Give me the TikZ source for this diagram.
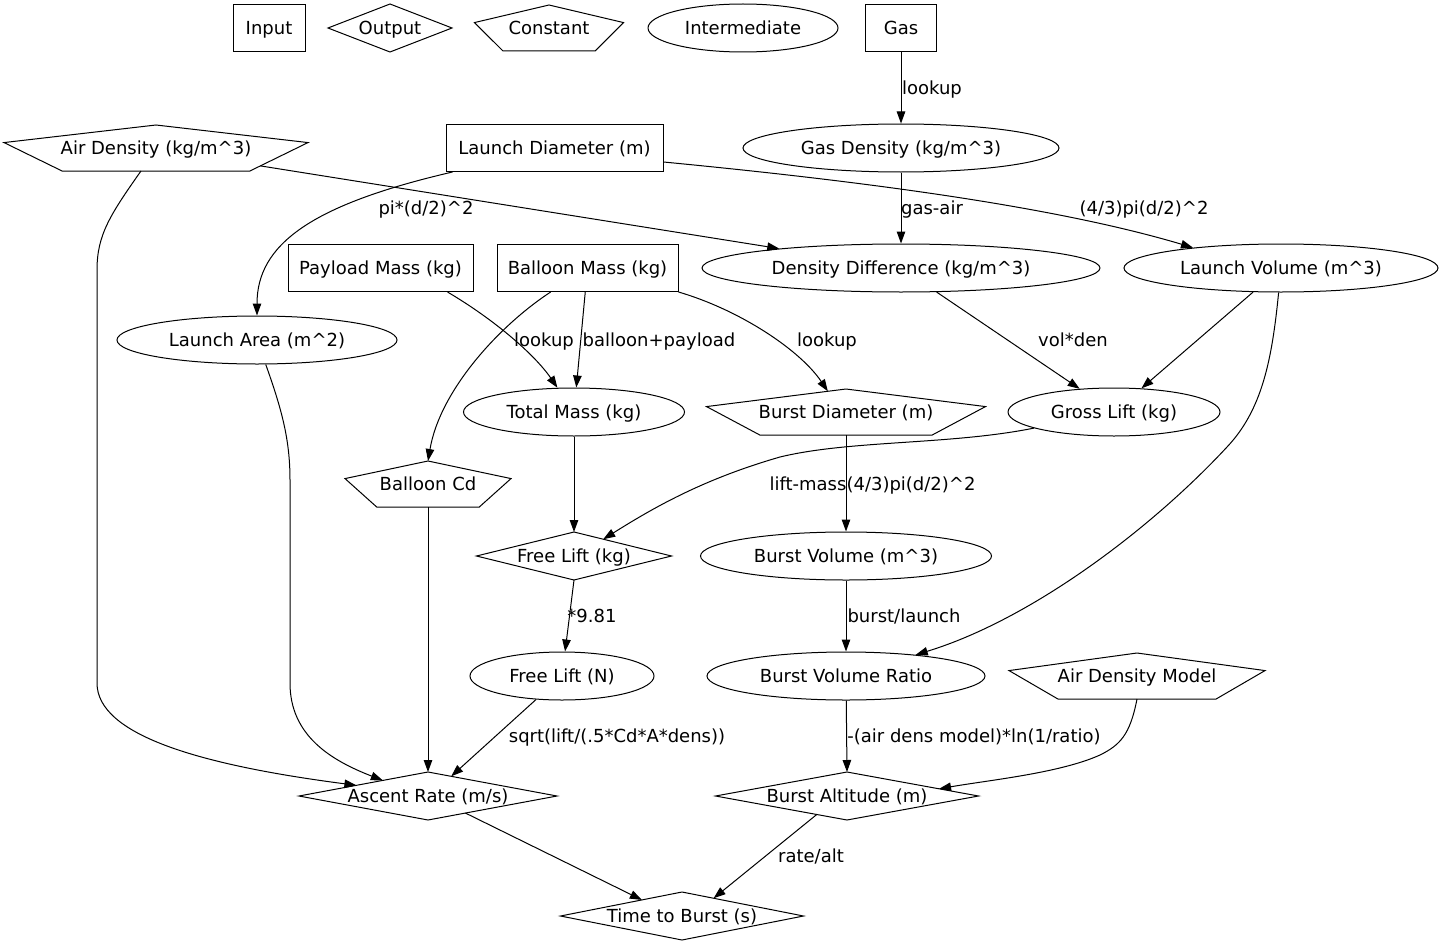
\documentclass[tikz,border=0pt]{standalone}
\usepackage{fontspec}
\setmainfont{DejaVu Sans}
\usetikzlibrary{shapes.geometric,arrows.meta,calc}

\begin{document}
\begin{tikzpicture}[
        x=1pt, y=1pt,
        line width=1pt,
        every node/.style={
            inner sep=0pt,
            text height=17pt,
            text depth=4pt,
            font=\fontsize{18}{22}\selectfont
        },
        inputnode/.style={rectangle, draw, minimum height=47pt},
        outputnode/.style={rectangle, minimum height=47pt},
        constnode/.style={rectangle, minimum height=45pt},
        midnode/.style={ellipse, draw, minimum height=48pt},
        arr/.style={-{Triangle[length=12pt,width=8.5pt]}}
    ]
    \useasboundingbox (0,0) rectangle (1447,-947);

    % Leyenda
    \node[inputnode, minimum width=72pt]   (legIn)    at (269,-28) {Input};
    \node[outputnode, minimum width=123pt] (legOut)   at (390,-28) {Output};
    \node[constnode, minimum width=148pt]  (legConst) at (549,-28) {Constant};
    \node[midnode, minimum width=190pt]    (legMid)   at (743,-28) {Intermediate};
    \node[inputnode, minimum width=71pt]   (gas)      at (901,-28) {Gas};

    % Nodos
    \node[constnode, minimum width=303pt]  (airden)   at (156,-148)   {Air Density (kg/m\textasciicircum 3)};
    \node[inputnode, minimum width=217pt]  (ldia)     at (554.5,-148) {Launch Diameter (m)};
    \node[midnode, minimum width=316pt]    (gasden)   at (901,-148)   {Gas Density (kg/m\textasciicircum 3)};

    \node[inputnode, minimum width=185pt]  (payload)  at (380.5,-268) {Payload Mass (kg)};
    \node[inputnode, minimum width=181pt]  (bmass)    at (587.5,-268) {Balloon Mass (kg)};
    \node[midnode, minimum width=398pt]    (ddiff)    at (901,-268)   {Density Difference (kg/m\textasciicircum 3)};
    \node[midnode, minimum width=314pt]    (lvol)     at (1281,-268)  {Launch Volume (m\textasciicircum 3)};

    \node[midnode, minimum width=280pt]    (larea)    at (257,-340)   {Launch Area (m\textasciicircum 2)};

    \node[midnode, minimum width=221pt]    (tmass)    at (574,-412)   {Total Mass (kg)};
    \node[constnode, minimum width=278pt]  (bdia)     at (846,-412)   {Burst Diameter (m)};
    \node[midnode, minimum width=212pt]    (glift)    at (1114,-412)  {Gross Lift (kg)};

    \node[constnode, minimum width=165pt]  (cd)       at (428,-484)   {Balloon Cd};

    \node[outputnode, minimum width=194pt] (flkg)     at (574,-556)   {Free Lift (kg)};
    \node[midnode, minimum width=291pt]    (bvol)     at (846,-556)   {Burst Volume (m\textasciicircum 3)};

    \node[midnode, minimum width=184pt]    (fln)      at (562,-676)   {Free Lift (N)};
    \node[midnode, minimum width=278pt]    (bratio)   at (846,-676)   {Burst Volume Ratio};
    \node[constnode, minimum width=255pt]  (airmodel) at (1137,-676)  {Air Density Model};

    \node[outputnode, minimum width=257pt] (ascent)   at (428,-796)   {Ascent Rate (m/s)};
    \node[outputnode, minimum width=262pt] (balt)     at (847,-796)   {Burst Altitude (m)};

    \node[outputnode, minimum width=242pt] (ttb)      at (682,-916)   {Time to Burst (s)};

    % Pentagonos y rombos
    \foreach \n in {legConst, airden, bdia, cd, airmodel} {
        \coordinate (\n-t)  at (\n.north);
        \coordinate (\n-l)  at ($(\n.north west)!0.382!(\n.south west)$);
        \coordinate (\n-r)  at ($(\n.north east)!0.382!(\n.south east)$);
        \coordinate (\n-bl) at ($(\n.south west)!0.191!(\n.south east)$);
        \coordinate (\n-br) at ($(\n.south west)!0.809!(\n.south east)$);
        \draw (\n-t) -- (\n-r) -- (\n-br) -- (\n-bl) -- (\n-l) -- cycle;
    }
    \foreach \n in {legOut, flkg, ascent, balt, ttb}
        \draw (\n.north) -- (\n.east) -- (\n.south) -- (\n.west) -- cycle;

    % Aristas
    \draw[arr] (gas) -- (gasden);
    \draw[arr] (gasden) -- (ddiff);
    \draw[arr] ($(airden-r)!0.82!(airden-br)$) -- (ddiff);
    \draw[arr] ($(ldia.east)+(0,-14)$) .. controls (850,-180) and (1050,-205) .. (lvol.167);
    \draw[arr] ($(ldia.south west)+(7,0)$) .. controls (310,-205) and (257,-245) .. (larea);
    \draw[arr] ($(airden-bl)!0.42!(airden-br)$) .. controls (110,-215) and (97,-235) .. (97,-270)
        -- (97,-683) .. controls (97,-735) and (200,-765) .. ($(ascent.west)!0.445!(ascent.north)$);
    \draw[arr] (larea) .. controls (282,-410) and (290,-440) .. (290,-480)
        -- (290,-683) .. controls (290,-735) and (330,-760) .. ($(ascent.west)!0.65!(ascent.north)$);
    \draw[arr] (cd.south) -- (ascent.north);
    \draw[arr] (fln) -- ($(ascent.north)!0.18!(ascent.east)$);

    \draw[arr] ($(payload.south)+(67,0)$) .. controls (495,-320) and (535,-355) .. (tmass);
    \draw[arr] (bmass) -- (tmass);
    \draw[arr] (bmass) .. controls (500,-325) and (440,-390) .. (cd-t);
    \draw[arr] (bmass.south east) .. controls (740,-310) and (800,-350) .. ($(bdia-t)!0.13!(bdia-l)$);
    \draw[arr] (ddiff) -- (glift);
    \draw[arr] (lvol) -- (glift);
    \draw[arr] (lvol) .. controls (1272,-360) and (1262,-410) .. (1227,-447)
        .. controls (1150,-530) and (1030,-620) .. (bratio);
    \draw[arr] (glift) .. controls (950,-445) and (850,-440) .. (780,-457)
        .. controls (700,-480) and (650,-510) .. ($(flkg.north)!0.3!(flkg.east)$);
    \draw[arr] (tmass) -- (flkg.north);
    \draw[arr] (bdia.south) -- (bvol);
    \draw[arr] (flkg.south) -- (fln);
    \draw[arr] (bvol) -- (bratio);
    \draw[arr] (bratio) -- (balt.north);
    \draw[arr] (airmodel.south) .. controls (1130,-735) and (1120,-745) .. (1100,-755)
        .. controls (1060,-773) and (990,-780) .. ($(balt.north)!0.7!(balt.east)$);
    \draw[arr] ($(ascent.south)!0.29!(ascent.east)$) -- ($(ttb.north)!0.33!(ttb.west)$);
    \draw[arr] ($(balt.south)!0.23!(balt.west)$) -- ($(ttb.north)!0.26!(ttb.east)$);

    % Etiquetas
    \node (lGas)      at (932,-88)  {lookup};
    \node (lGasAir)   at (932,-208) {gas-air};
    \node (lArea)     at (426,-208) {pi*(d/2)\textasciicircum 2};
    \node (lVol)      at (1144,-208) {(4/3)pi(d/2)\textasciicircum 2};
    \node (lCd)       at (544,-340) {lookup};
    \node (lTotal)    at (659,-340) {balloon+payload};
    \node (lBurstDia) at (827,-340) {lookup};
    \node (lGross)    at (1073,-340) {vol*den};
    \node (lFree)     at (808,-484) {lift-mass};
    \node (lBurstVol) at (911,-484) {(4/3)pi(d/2)\textasciicircum 2};
    \node (lNewton)   at (592,-616) {*9.81};
    \node (lRatio)    at (904,-616) {burst/launch};
    \node (lAscent)   at (617,-736) {sqrt(lift/(.5*Cd*A*dens))};
    \node (lAlt)      at (974,-736) {-(air dens model)*ln(1/ratio)};
    \node (lTime)     at (811,-856) {rate/alt};

\end{tikzpicture}
\end{document}
